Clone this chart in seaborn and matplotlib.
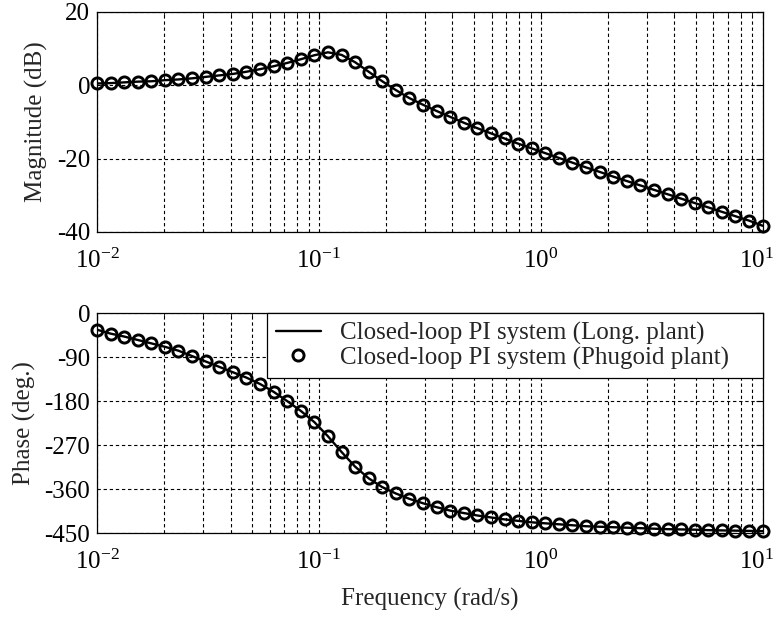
import matplotlib
matplotlib.use("Agg")
import matplotlib.pyplot as plt
import matplotlib.transforms as mtransforms
import pandas as pd
import seaborn as sns
from matplotlib.ticker import LogLocator, NullFormatter, FixedLocator

# Frequency grid (rad/s), log-spaced over 10^-2 .. 10^1
freq = [0.01, 0.01151, 0.01326, 0.01526, 0.01758, 0.02024, 0.02330, 0.02683,
        0.03089, 0.03556, 0.04095, 0.04715, 0.05429, 0.06251, 0.07197, 0.08286,
        0.09541, 0.1099, 0.1265, 0.1456, 0.1677, 0.1931, 0.2223, 0.2560,
        0.2947, 0.3393, 0.3907, 0.4498, 0.5180, 0.5964, 0.6866, 0.7906,
        0.9103, 1.048, 1.207, 1.390, 1.600, 1.842, 2.121, 2.442,
        2.812, 3.238, 3.728, 4.292, 4.942, 5.690, 6.551, 7.543,
        8.685, 10.0]

# Closed-loop magnitude (dB)
mag_phugoid = [0.5, 0.6, 0.8, 1.0, 1.1, 1.4, 1.6, 1.9, 2.3, 2.7,
               3.1, 3.7, 4.4, 5.2, 6.1, 7.1, 8.2, 9.0, 8.3, 6.3,
               3.7, 1.1, -1.3, -3.5, -5.3, -7.0, -8.6, -10.2, -11.7, -13.1,
               -14.5, -15.9, -17.2, -18.5, -19.8, -21.1, -22.4, -23.6, -24.9, -26.1,
               -27.3, -28.5, -29.7, -30.9, -32.1, -33.3, -34.5, -35.7, -36.9, -38.3]

# Closed-loop phase (deg)
phase_phugoid = [-34, -42, -48, -55, -62, -69, -77, -88, -99, -110,
                 -121, -132, -145, -161, -180, -200, -223, -252, -284, -314,
                 -338, -356, -369, -380, -389, -397, -404, -409, -414, -418,
                 -422, -425, -428, -430, -432, -434, -436, -437, -438, -439,
                 -440, -441, -442, -442.5, -443, -444, -444.5, -445, -445.5, -446]

# The longitudinal-plant response lies on top of the phugoid approximation
mag_long = list(mag_phugoid)
phase_long = list(phase_phugoid)

mag_ticks = [-40, -20, 0, 20]
phase_ticks = [-450, -360, -270, -180, -90, 0]
label_long = "Closed-loop PI system (Long. plant)"
label_phug = "Closed-loop PI system (Phugoid plant)"

df = pd.DataFrame({
    "freq": freq,
    "mag_long": mag_long,
    "mag_phug": mag_phugoid,
    "phase_long": phase_long,
    "phase_phug": phase_phugoid,
})

FS = 18

sns.set_style("white")
plt.rcParams.update({
    "font.family": ["Liberation Serif", "DejaVu Serif"],
    "mathtext.fontset": "custom",
    "mathtext.rm": "Liberation Serif",
    "mathtext.it": "Liberation Serif:italic",
    "mathtext.default": "regular",
    "axes.unicode_minus": False,
    "font.size": FS,
    "axes.edgecolor": "black",
    "axes.linewidth": 0.9,
})

fig = plt.figure(figsize=(7.77, 6.17), dpi=100)
ax_mag = fig.add_axes([0.1248, 0.624, 0.8567, 0.3566])
ax_ph = fig.add_axes([0.1248, 0.136, 0.8567, 0.3566])

grid_style = dict(color="black", linestyle=(0, (3.0, 2.5)), linewidth=0.8)

for ax, ycol_l, ycol_p, ticks, ylabel in [
    (ax_mag, "mag_long", "mag_phug", mag_ticks, "Magnitude (dB)"),
    (ax_ph, "phase_long", "phase_phug", phase_ticks, "Phase (deg.)"),
]:
    sns.lineplot(data=df, x="freq", y=ycol_l, ax=ax, color="black",
                 linewidth=1.7, label=label_long, legend=False, zorder=3)
    sns.lineplot(data=df, x="freq", y=ycol_p, ax=ax, color="black",
                 linestyle="none", marker="o", markersize=8,
                 markerfacecolor="none", markeredgecolor="black",
                 markeredgewidth=2.1, label=label_phug, legend=False,
                 zorder=4, clip_on=False)
    ax.set_xscale("log")
    ax.set_xlim(0.01, 10)
    ax.set_ylim(ticks[0], ticks[-1])
    ax.yaxis.set_major_locator(FixedLocator(ticks))
    ax.xaxis.set_major_locator(FixedLocator([0.01, 0.1, 1, 10]))
    ax.xaxis.set_minor_locator(LogLocator(base=10, subs=range(2, 10), numticks=20))
    ax.xaxis.set_minor_formatter(NullFormatter())
    ax.grid(True, which="major", axis="both", **grid_style)
    ax.grid(True, which="minor", axis="x", **grid_style)
    ax.set_axisbelow(True)
    ax.tick_params(axis="both", which="both", direction="in", colors="black",
                   top=True, right=True, labelsize=FS)
    ax.tick_params(axis="x", which="major", length=5, pad=12)
    ax.tick_params(axis="x", which="minor", length=3)
    ax.tick_params(axis="y", which="major", length=5, pad=5)
    ax.set_ylabel(ylabel, fontsize=FS, labelpad=6)
    ax.set_xlabel("")
    for sp in ax.spines.values():
        sp.set_visible(True)
        sp.set_color("black")

ax_ph.set_xlabel("Frequency (rad/s)", fontsize=FS, labelpad=10)

# keep the rightmost decade label (10^1) inside the canvas
fig.canvas.draw()
for ax in (ax_mag, ax_ph):
    for tick in ax.xaxis.get_major_ticks():
        if abs(tick.get_loc() - 10) < 1e-9:
            lbl = tick.label1
            lbl.set_transform(lbl.get_transform() +
                              mtransforms.ScaledTranslation(-4.5 / 72, 0,
                                                            fig.dpi_scale_trans))

handles, labels = ax_ph.get_legend_handles_labels()
leg = ax_ph.legend(handles[:2], labels[:2], loc="upper left",
                   bbox_to_anchor=(0.2556, 0.0, 0.7444, 1.0), mode="expand",
                   borderaxespad=0, fontsize=FS, handlelength=1.8,
                   handletextpad=0.75, borderpad=0.35, labelspacing=0.06,
                   fancybox=False, framealpha=1, edgecolor="black")
leg.get_frame().set_linewidth(0.9)

fig.savefig("out.png", dpi=100, facecolor="white")
